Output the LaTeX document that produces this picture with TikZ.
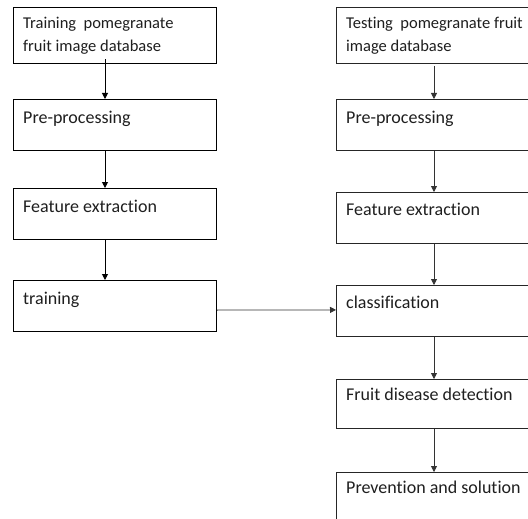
\documentclass[tikz,border=0pt]{standalone}
\usepackage{fontspec}
\setmainfont[Ligatures=NoCommon]{Carlito}
\usetikzlibrary{arrows.meta,calc}
\begin{document}
\begin{tikzpicture}[x=1pt,y=-1pt,
  lbox/.style={draw=black, line width=1.1pt, inner sep=0pt, anchor=north west, minimum width=203pt},
  rbox/.style={draw=black!85, line width=0.9pt, inner sep=0pt, anchor=north west, minimum width=210pt},
  lbl/.style={anchor=base west, inner sep=0pt, text=black!88, font=\fontsize{18}{22}\selectfont},
  lbltop/.style={anchor=base west, inner sep=0pt, text=black!88, align=left, font=\fontsize{16.5}{23.5}\selectfont},
  larr/.style={draw=black, line width=1pt, -{Triangle[length=6pt,width=6pt]}},
  rarr/.style={draw=black!80, line width=0.8pt, -{Triangle[length=6pt,width=6pt]}}]
\useasboundingbox (0,0) rectangle (528,519);
\clip (0,0) rectangle (528,519);
\fill[white] (0,0) rectangle (528,519);
% left column
\node[lbox, minimum height=56pt] (b1) at (13,7) {};
\node[lbox, minimum height=51pt] (b2) at (13,99) {};
\node[lbox, minimum height=51pt] (b3) at (13,188) {};
\node[lbox, minimum height=51pt] (b4) at (13,280) {};
% right column
\node[rbox, minimum height=56pt] (r1) at (336,7) {};
\node[rbox, minimum height=51pt] (r2) at (336,99) {};
\node[rbox, minimum height=51pt] (r3) at (336,192) {};
\node[rbox, minimum height=51pt] (r4) at (336,285) {};
\node[rbox, minimum height=49pt] (r5) at (336,379) {};
\node[rbox, minimum height=70pt] (r6) at (336,472) {};
% labels
\node[lbltop] (t1) at ($(b1.north west)+(10,45)$) {Training\ \ pomegranate\\fruit image database};
\node[lbl] (t2) at ($(b2.north west)+(10,25)$) {Pre-processing};
\node[lbl] (t3) at ($(b3.north west)+(10,24)$) {Feature extraction};
\node[lbl] (t4) at ($(b4.north west)+(10,24)$) {training};
\node[lbltop] (s1) at ($(r1.north west)+(10,45)$) {Testing\ \ pomegranate fruit\\image database};
\node[lbl] (s2) at ($(r2.north west)+(10,25)$) {Pre-processing};
\node[lbl] (s3) at ($(r3.north west)+(10,23)$) {Feature extraction};
\node[lbl] (s4) at ($(r4.north west)+(10,23)$) {classification};
\node[lbl] (s5) at ($(r5.north west)+(10,21)$) {Fruit disease detection};
\node[lbl] (s6) at ($(r6.north west)+(10,21)$) {Prevention and solution};
% connectors
\draw[larr] ($(b1.south west)+(92,-5)$) -- ($(b2.north west)+(92,0)$);
\draw[larr] ($(b2.south west)+(92,0)$) -- ($(b3.north west)+(92,0)$);
\draw[larr] ($(b3.south west)+(92,0)$) -- ($(b4.north west)+(92,0)$);
\draw[rarr] ($(r1.south west)+(98,2)$) -- ($(r2.north west)+(98,0)$);
\draw[rarr] ($(r2.south west)+(98,0)$) -- ($(r3.north west)+(98,0)$);
\draw[rarr] ($(r3.south west)+(98,0)$) -- ($(r4.north west)+(98,0)$);
\draw[rarr] ($(r4.south west)+(98,0)$) -- ($(r5.north west)+(98,0)$);
\draw[rarr] ($(r5.south west)+(98,0)$) -- ($(r6.north west)+(98,0)$);
\draw[rarr] ($(b4.south east)+(0,-22)$) -- ($(r4.south west)+(0,-27)$);
\end{tikzpicture}
\end{document}
